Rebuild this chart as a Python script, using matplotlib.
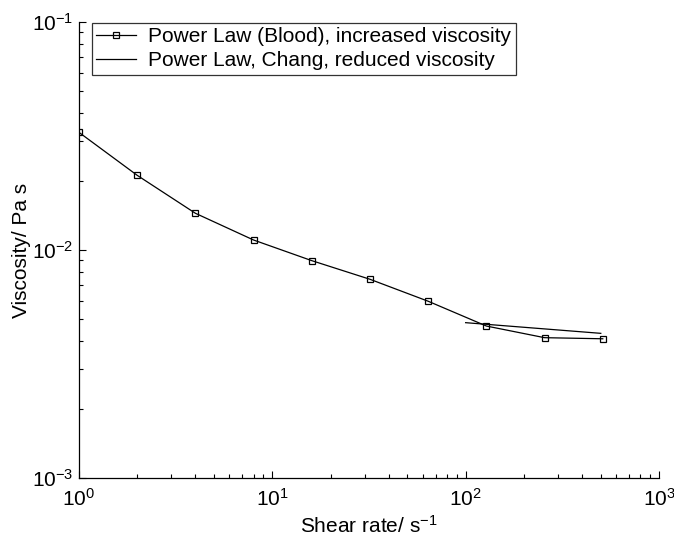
import matplotlib
matplotlib.use("Agg")
import matplotlib.pyplot as plt
from matplotlib.ticker import LogLocator, NullFormatter

plt.rcParams["font.family"] = ["Liberation Sans", "DejaVu Sans"]
plt.rcParams["mathtext.fontset"] = "custom"
plt.rcParams["mathtext.rm"] = "Liberation Sans"
plt.rcParams["mathtext.it"] = "Liberation Sans:italic"
plt.rcParams["mathtext.bf"] = "Liberation Sans:bold"

# Shear rate (1/s) and viscosity (Pa s) for the blood power-law model
shear_blood = [1, 2, 4, 8, 16, 32, 64, 128, 256, 512]
visc_blood = [0.0328, 0.02126, 0.01449, 0.01106, 0.00898, 0.00744,
              0.00596, 0.00464, 0.004125, 0.00408]

# Chang power-law model
shear_chang = [100, 500]
visc_chang = [0.0048, 0.00431]

labels = ["Power Law (Blood), increased viscosity",
          "Power Law, Chang, reduced viscosity"]

fig = plt.figure(figsize=(6.74, 5.43), dpi=100)
ax = fig.add_axes([0.1172, 0.1197, 0.8605, 0.8398])

ax.plot(shear_blood, visc_blood, color="black", lw=0.9, marker="s",
        markersize=4.5, markerfacecolor="none", markeredgecolor="black",
        markeredgewidth=0.9, label=labels[0])
ax.plot(shear_chang, visc_chang, color="black", lw=0.9, label=labels[1])

ax.set_xscale("log")
ax.set_yscale("log")
ax.set_xlim(1, 1000)
ax.set_ylim(1e-3, 1e-1)

ax.spines["top"].set_visible(False)
ax.spines["right"].set_visible(False)
ax.spines["left"].set_linewidth(0.9)
ax.spines["bottom"].set_linewidth(0.9)

ax.xaxis.set_major_locator(LogLocator(base=10, numticks=10))
ax.yaxis.set_major_locator(LogLocator(base=10, numticks=10))
ax.xaxis.set_minor_locator(LogLocator(base=10, subs=range(2, 10), numticks=20))
ax.yaxis.set_minor_locator(LogLocator(base=10, subs=range(2, 10), numticks=20))
ax.xaxis.set_minor_formatter(NullFormatter())
ax.yaxis.set_minor_formatter(NullFormatter())

ax.tick_params(which="both", direction="in", top=False, right=False,
               labelsize=15, width=0.8)
ax.tick_params(which="major", length=5)
ax.tick_params(which="minor", length=3)
ax.tick_params(axis="x", which="major", pad=7)
ax.tick_params(axis="y", which="major", pad=4)

ax.set_xlabel("Shear rate/ s$^{-1}$", fontsize=15, labelpad=4)
ax.set_ylabel("Viscosity/ Pa s", fontsize=15)
ax.yaxis.set_label_coords(-0.083, 0.5)

leg = ax.legend(loc="upper left", bbox_to_anchor=(0.022, 0.998), fontsize=15,
                frameon=True, fancybox=False, numpoints=1, handlelength=1.9,
                borderpad=0.22, labelspacing=0.24, handletextpad=0.6,
                borderaxespad=0.0)
leg.get_frame().set_edgecolor("black")
leg.get_frame().set_linewidth(0.9)

fig.savefig("out.png", dpi=100)
